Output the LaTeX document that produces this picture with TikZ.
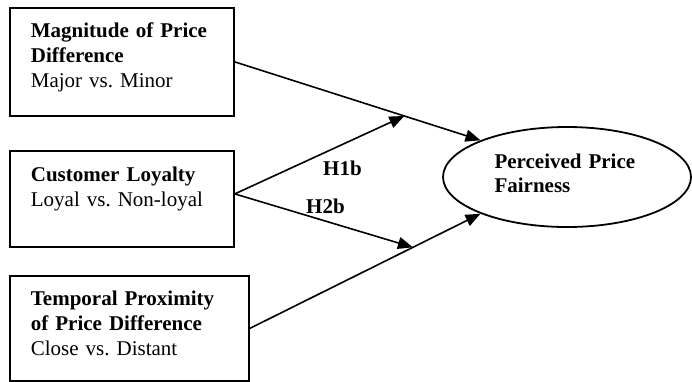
\documentclass[tikz,border=0pt]{standalone}
\usepackage{fontspec}
\setmainfont{Liberation Serif}
\usetikzlibrary{arrows.meta,shapes.geometric}

\begin{document}
\begin{tikzpicture}[x=1pt,y=-1pt,
  every node/.style={font=\fontsize{21pt}{24.8pt}\selectfont},
  factor/.style={draw,line width=1.8pt,anchor=north west,inner ysep=0pt,
    inner xsep=21pt,align=left},
  outcome/.style={draw,ellipse,line width=1.8pt,inner sep=0pt,
    minimum width=248pt,minimum height=100pt,align=left,text width=145pt,
    text height=20pt,text depth=38pt},
  link/.style={line width=1.6pt,-{Triangle[length=15pt,width=12pt]}},
  hyp/.style={anchor=base west,inner sep=0pt,font=\fontsize{21pt}{24.8pt}\selectfont\bfseries}
]
\useasboundingbox (0,0) rectangle (692,381);

% independent factors
\node[factor,text width=182pt,text height=30pt,text depth=78pt] (mag) at (9,7)
  {\textbf{Magnitude of Price}\\\textbf{Difference}\\Major vs.\ Minor};
\node[factor,text width=182pt,text height=31pt,text depth=65pt] (loy) at (9,150)
  {\textbf{Customer Loyalty}\\Loyal vs.\ Non-loyal};
\node[factor,text width=197pt,text height=30pt,text depth=75pt] (tmp) at (9,275)
  {\textbf{Temporal Proximity}\\\textbf{of Price Difference}\\Close vs.\ Distant};

% dependent construct
\node[outcome] (pf) at (567,177) {\textbf{Perceived Price}\\\textbf{Fairness}};

% main effects
\draw[link] (mag.east) -- coordinate[pos=0.69] (m1) (pf.157);
\draw[link] (tmp.east) -- coordinate[pos=0.707] (m2) (pf.203);

% moderating effects of loyalty
\coordinate (lo) at ([yshift=5pt]loy.east);
\draw[link] (lo) -- (m1);
\draw[link] (lo) -- (m2);

% hypothesis labels
\node[hyp] (h1b) at (323,175) {H1b};
\node[hyp] (h2b) at (306,213) {H2b};
\end{tikzpicture}
\end{document}
